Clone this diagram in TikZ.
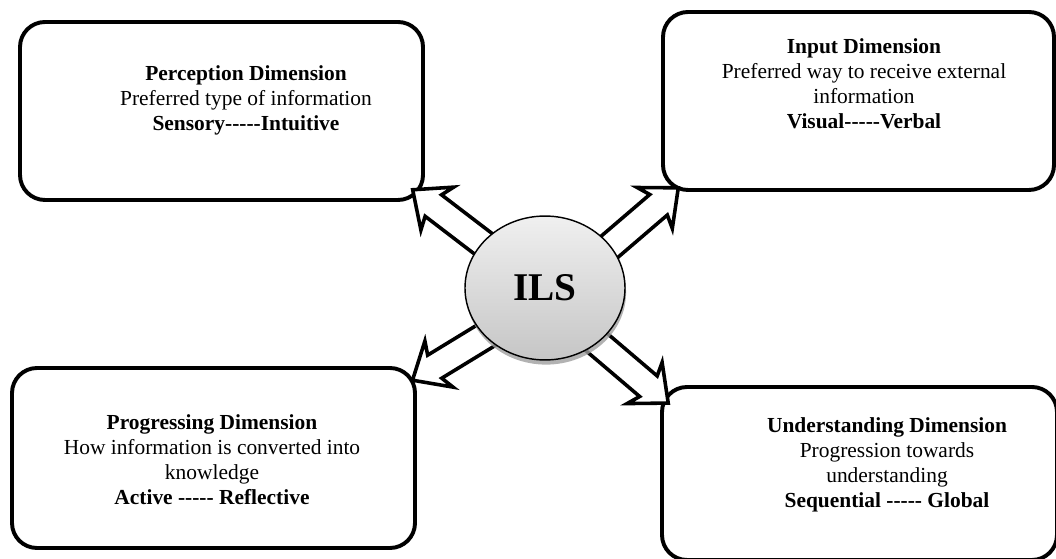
\documentclass[tikz,border=0pt]{standalone}
\usepackage{fontspec}
\setmainfont{Liberation Serif}[Ligatures=TeXOff]
\usepackage{tikz}
\usetikzlibrary{shapes}
\usetikzlibrary{shadows}
\usetikzlibrary{calc}

\tikzset{
  dimbox/.style={line width=2.2pt, rounded corners=14pt},
  dimtext/.style={align=center, inner sep=0pt, font=\fontsize{12}{14}\selectfont},
  blockarrow/.style={line width=2pt, fill=white, line join=miter},
}
% block arrow: tail offset from the circle centre, angle, length
\newcommand{\ilsarrow}[3]{%
  \draw[blockarrow, shift={(ilsc)}, shift={(#1)}, rotate=#2]
    (-12,-13.5) -- (#3-26,-13.5) -- (#3-31,-27) -- (#3,0)
    -- (#3-31,27) -- (#3-26,13.5) -- (-12,13.5) -- cycle;}

\begin{document}
\begin{tikzpicture}[x=0.56pt, y=0.56pt]
    \useasboundingbox (0,0) rectangle (1056,559);
    \clip (0,0) rectangle (1056,559);

    % four dimension boxes
    \draw[dimbox] (20,359)  rectangle (423,537);
    \draw[dimbox] (663,369) rectangle (1054,547);
    \draw[dimbox] (12,11)   rectangle (415,191);
    \draw[dimbox] (662,-1)  rectangle (1057,172);

    \node[dimtext] (perc) at (246,459) {\textbf{Perception Dimension}\\Preferred type of information\\\textbf{Sensory-----Intuitive}};
    \node[dimtext] (inpt) at (864,475) {\textbf{Input Dimension}\\Preferred way to receive external\\information\\\textbf{Visual-----Verbal}};
    \node[dimtext] (prog) at (212,99) {\textbf{Progressing Dimension}\\How information is converted into\\knowledge\\\textbf{Active ----- Reflective}};
    \node[dimtext] (undr) at (887,94) {\textbf{Understanding Dimension}\\Progression towards\\understanding\\\textbf{Sequential ----- Global}};

    % arrows out of the centre
    \coordinate (ilsc) at (545,271);
    \ilsarrow{-64,46}{142.6}{86}
    \ilsarrow{69.5,45.5}{40.6}{84}
    \ilsarrow{-62.5,-49.5}{211.4}{82}
    \ilsarrow{58.5,-60}{-40.4}{85}

    % ILS circle
    \node[ellipse, draw, line width=0.8pt, minimum width=89.6pt, minimum height=80.6pt,
          top color=gray!12, bottom color=gray!45,
          drop shadow={shadow xshift=0.6pt, shadow yshift=-2.6pt, fill=gray!75, opacity=0.8},
          font=\fontsize{22}{26}\selectfont\bfseries] (ils) at (ilsc) {ILS};
\end{tikzpicture}
\end{document}
